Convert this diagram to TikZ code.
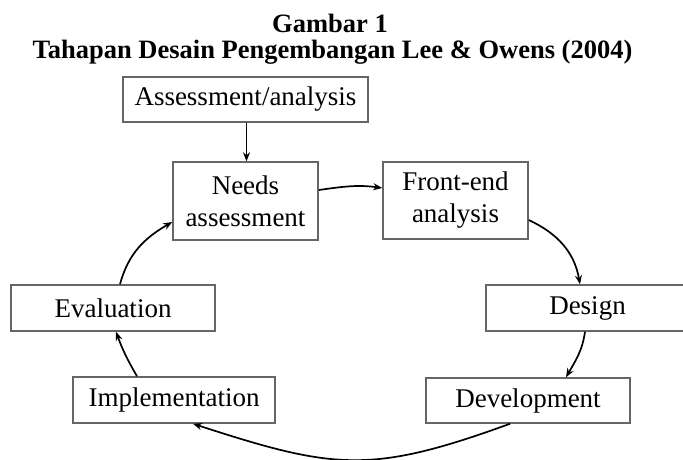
\documentclass[tikz,border=0pt]{standalone}
\usepackage{fontspec}
\setmainfont{Liberation Serif}
\usetikzlibrary{arrows.meta,calc}
\definecolor{boxgray}{HTML}{666666}
\begin{document}
\begin{tikzpicture}[x=1pt,y=1pt,
  box/.style={draw=boxgray, line width=1.5pt, inner sep=0pt, align=center,
              font=\fontsize{27}{32}\selectfont},
  arr/.style={draw=black, line width=1.7pt, -{Stealth[length=9pt,width=7pt]}},
  ttl/.style={font=\bfseries\fontsize{26.5}{26.5}\selectfont, anchor=base, inner sep=0pt}]
\useasboundingbox (0,0) rectangle (683,-459);
\node[ttl] (t1) at (330,-32) {Gambar 1};
\node[ttl] (t2) at (332.5,-58) {Tahapan Desain Pengembangan Lee \& Owens (2004)};
\node[box, minimum width=245pt, minimum height=45pt] (aa) at (245.5,-99.5) {Assessment/analysis};
\node[box, minimum width=145pt, minimum height=78pt] (na) at (245.5,-201) {Needs\\assessment};
\node[box, minimum width=145pt, minimum height=77pt] (fe) at (455.5,-200.5) {Front-end\\analysis};
\node[box, minimum width=203pt, minimum height=46pt] (de) at (587.5,-308) {Design};
\node[box, minimum width=204pt, minimum height=46pt] (ev) at (113,-308) {Evaluation};
\node[box, minimum width=202pt, minimum height=46pt] (im) at (174,-400) {Implementation};
\node[box, minimum width=204pt, minimum height=45pt] (dv) at (528,-400.5) {Development};
\draw[arr] ($(aa.south)+(1,0)$) -- ($(na.north)+(1,0)$);
\draw[arr] ($(na.east)+(0,11)$) to[out=8,in=172] ($(fe.west)+(0,12.5)$);
\draw[arr] ($(fe.east)+(0,-19.5)$) to[out=-25,in=100] ($(de.north)+(-7.5,0)$);
\draw[arr] ($(de.south)+(-2.5,0)$) to[out=-98,in=60] ($(dv.north)+(38,0)$);
\draw[arr] ($(dv.south)+(-18,0)$) to[out=200,in=-18,looseness=1.2] ($(im.south)+(19,0)$);
\draw[arr] ($(im.north)+(-37,0)$) to[out=120,in=-70] ($(ev.south)+(3,0)$);
\draw[arr] ($(ev.north)+(7,0)$) to[out=75,in=210] ($(na.west)+(0,-21)$);
\end{tikzpicture}
\end{document}
